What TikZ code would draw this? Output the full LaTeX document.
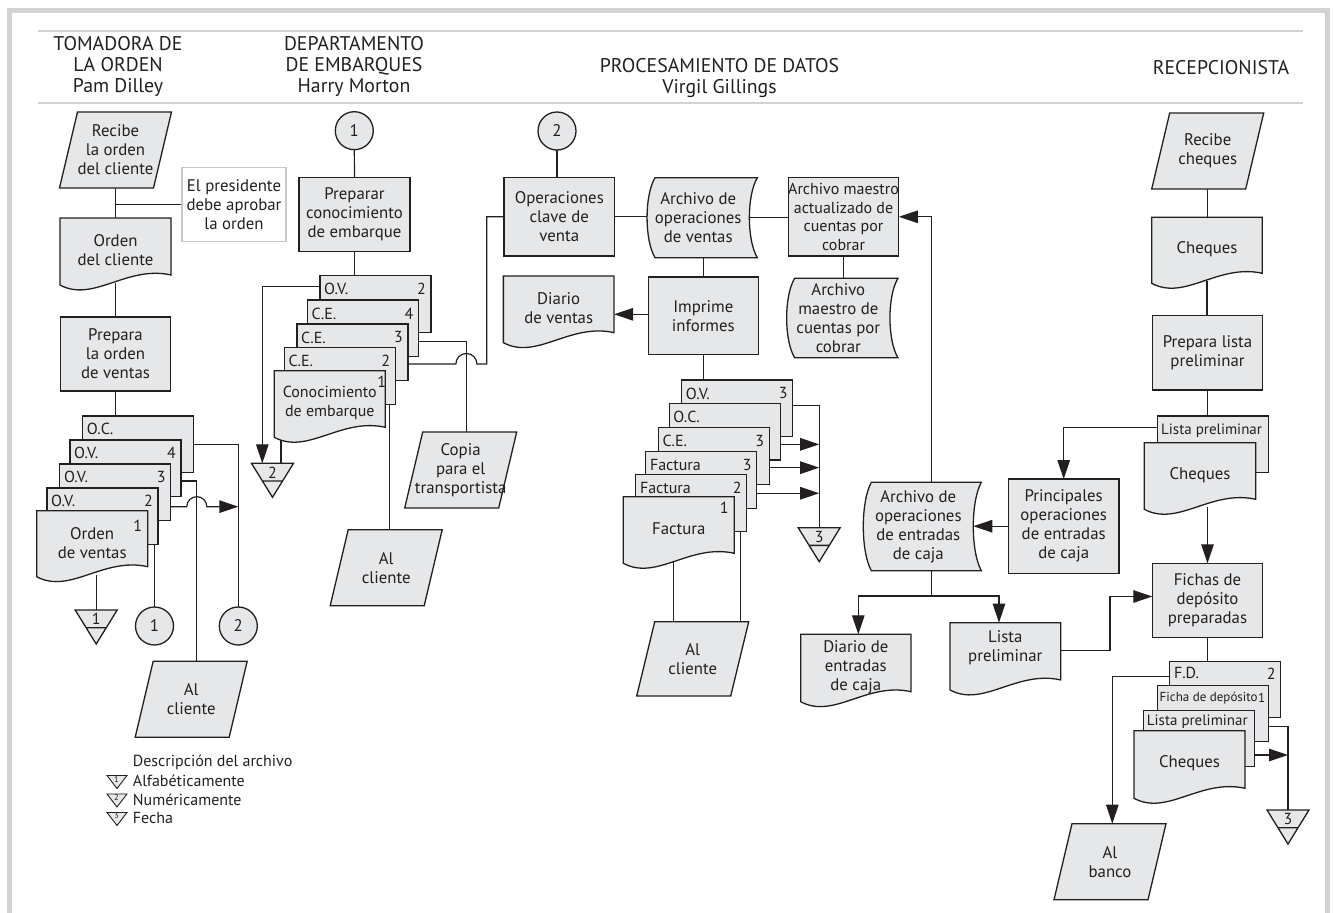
\documentclass[tikz,border=0pt]{standalone}
\usepackage{fontspec}
\setmainfont{PT Sans}
\usetikzlibrary{arrows.meta,backgrounds,calc}

\definecolor{lc}{HTML}{231F20}
\definecolor{fc}{HTML}{E6E7E8}
\definecolor{fr}{HTML}{D1D3D4}
\definecolor{nb}{HTML}{C7C8CA}

\newcommand\bodyf{\fontsize{16.8}{19}\selectfont}
\newcommand\midf{\fontsize{16}{18.7}\selectfont}
\newcommand\lpf{\fontsize{15}{18}\selectfont}
\newcommand\hdrf{\fontsize{19.8}{21}\selectfont}
\newcommand\smlf{\fontsize{13}{15}\selectfont}
\newcommand\tnyf{\fontsize{8.5}{9}\selectfont}

\makeatletter
\newdimen\shXa \newdimen\shYa \newdimen\shXb \newdimen\shYb \newdimen\shW \newdimen\shH
\def\shgetbox{\southwest \shXa=\pgf@x \shYa=\pgf@y \northeast \shXb=\pgf@x \shYb=\pgf@y
  \shW=\shXb \advance\shW by -\shXa \shH=\shYb \advance\shH by -\shYa}
\def\shanchors{%
  \inheritsavedanchors[from=rectangle]%
  \inheritanchorborder[from=rectangle]%
  \inheritanchor[from=rectangle]{center}%
  \inheritanchor[from=rectangle]{north}%
  \inheritanchor[from=rectangle]{south}%
  \inheritanchor[from=rectangle]{east}%
  \inheritanchor[from=rectangle]{west}%
  \inheritanchor[from=rectangle]{north east}%
  \inheritanchor[from=rectangle]{north west}%
  \inheritanchor[from=rectangle]{south east}%
  \inheritanchor[from=rectangle]{south west}%
  \inheritanchor[from=rectangle]{mid}%
  \inheritanchor[from=rectangle]{base}}
\def\qp#1#2{\pgfqpoint{\dimexpr#1\relax}{\dimexpr#2\relax}}
% document: body ends 8pt above the box bottom on the right
\pgfdeclareshape{docshape}{\shanchors
 \backgroundpath{\shgetbox
  \pgfpathmoveto{\qp{\shXa}{\shYb}}%
  \pgfpathlineto{\qp{\shXb}{\shYb}}%
  \pgfpathlineto{\qp{\shXb}{\shYa+8pt}}%
  \pgfpathcurveto{\qp{\shXa+0.6\shW}{\shYa+18pt}}{\qp{\shXa+0.3\shW}{\shYa-20pt}}{\qp{\shXa}{\shYa-2pt}}%
  \pgfpathclose}}
\pgfdeclareshape{ioshape}{\shanchors
 \backgroundpath{\shgetbox
  \pgfpathmoveto{\qp{\shXa+9pt}{\shYb}}%
  \pgfpathlineto{\qp{\shXb+9pt}{\shYb}}%
  \pgfpathlineto{\qp{\shXb-9pt}{\shYa}}%
  \pgfpathlineto{\qp{\shXa-9pt}{\shYa}}%
  \pgfpathclose}}
\pgfdeclareshape{storeshape}{\shanchors
 \backgroundpath{\shgetbox
  \pgfpathmoveto{\qp{\shXa+8pt}{\shYb}}%
  \pgfpathlineto{\qp{\shXb+8pt}{\shYb}}%
  \pgfpathcurveto{\qp{\shXb-2.67pt}{\shYb-0.22\shH}}{\qp{\shXb-2.67pt}{\shYa+0.22\shH}}{\qp{\shXb+8pt}{\shYa}}%
  \pgfpathlineto{\qp{\shXa+8pt}{\shYa}}%
  \pgfpathcurveto{\qp{\shXa-2.67pt}{\shYa+0.22\shH}}{\qp{\shXa-2.67pt}{\shYb-0.22\shH}}{\qp{\shXa+8pt}{\shYb}}%
  \pgfpathclose}}
\pgfdeclareshape{offshape}{\shanchors
 \backgroundpath{\shgetbox
  \pgfpathmoveto{\qp{\shXa}{\shYb}}%
  \pgfpathlineto{\qp{\shXb}{\shYb}}%
  \pgfpathlineto{\qp{\shXa+0.5\shW}{\shYa}}%
  \pgfpathclose
  \pgfpathmoveto{\qp{\shXa+0.26\shW}{\shYb-0.52\shH}}%
  \pgfpathlineto{\qp{\shXb-0.26\shW}{\shYb-0.52\shH}}}}
\pgfdeclareshape{trishape}{\shanchors
 \backgroundpath{\shgetbox
  \pgfpathmoveto{\qp{\shXa}{\shYb}}%
  \pgfpathlineto{\qp{\shXb}{\shYb}}%
  \pgfpathlineto{\qp{\shXa+0.5\shW}{\shYa}}%
  \pgfpathclose}}
\makeatother

\tikzset{
  bx/.style={draw=lc, fill=fc, line width=1.3pt, inner sep=0pt, outer sep=0pt, align=center, font=\bodyf, text=lc},
  procbox/.style={bx, rectangle, minimum width=110.5, minimum height=74},
  docbox/.style={bx, shape=docshape, minimum width=111, minimum height=65},
  iobox/.style={bx, shape=ioshape, minimum width=94, minimum height=76},
  storebox/.style={bx, shape=storeshape, minimum width=103, minimum height=80},
  copybox/.style={bx, rectangle, minimum width=111, minimum height=56.7},
  connc/.style={bx, circle, minimum size=38},
  offbox/.style={bx, shape=offshape, minimum width=42, minimum height=34},
  tribox/.style={draw=lc, fill=fc, line width=0.9pt, shape=trishape, minimum width=20, minimum height=13, inner sep=0pt, outer sep=0pt},
  notebox/.style={draw=nb, fill=white, line width=1.1pt, rectangle, minimum width=104, minimum height=74, inner sep=0pt, align=center, font=\bodyf, text=lc},
  tabl/.style={inner sep=0pt, anchor=west, font=\midf, text=lc},
  tabn/.style={inner sep=0pt, anchor=east, font=\midf, text=lc},
  numl/.style={inner sep=0pt, font=\midf, text=lc},
  txt/.style={inner sep=0pt, anchor=west, font=\midf, text=lc},
  tnum/.style={inner sep=0pt, font=\tnyf, text=lc},
  hdr/.style={inner sep=0pt, align=center, font=\hdrf, text=lc},
  ln/.style={draw=lc, line width=1.2pt},
  arr/.style={ln, -{Triangle[length=19pt,width=12.5pt]}},
  hline/.style={draw=fr, line width=1.4pt},
}

\begin{document}
\begin{tikzpicture}[x=1pt,y=-1pt]
\useasboundingbox (0,0) rectangle (1334,913);

% headers
\node[hdr] (h1) at (118,66) {TOMADORA DE\\LA ORDEN\\Pam Dilley};
\node[hdr] (h2) at (354,66) {DEPARTAMENTO\\DE EMBARQUES\\Harry Morton};
\node[hdr] (h3) at (719.5,78) {PROCESAMIENTO DE DATOS\\Virgil Gillings};
\node[hdr] (h4) at (1221,68) {RECEPCIONISTA};

% ---------- column 1
\node[iobox] (rec) at (115.5,150) {Recibe\\la orden\\del cliente};
\node[notebox] (note) at (234,204.5) {El presidente\\debe aprobar\\la orden};
\node[docbox] (ordcli) at (115.5,250.5) {Orden\\del cliente};
\node[procbox] (prep) at (115.5,354) {Prepara\\la orden\\de ventas};
\node[copybox] (oc) at (138.2,444.3) {};
\node[tabl] (oc-l) at ($(oc.north west)+(4,13)$) {O.C.};
\node[copybox] (ov4) at (125.5,468.3) {};
\node[tabl] (ov4-l) at ($(ov4.north west)+(4,13)$) {O.V.};
\node[tabn] (ov4-n) at ($(ov4.north east)+(-5,13)$) {4};
\node[copybox] (ov3) at (115.3,492.3) {};
\node[tabl] (ov3-l) at ($(ov3.north west)+(4,13)$) {O.V.};
\node[tabn] (ov3-n) at ($(ov3.north east)+(-5,13)$) {3};
\node[copybox] (ov2) at (102.5,516.3) {};
\node[tabl] (ov2-l) at ($(ov2.north west)+(4,13)$) {O.V.};
\node[tabn] (ov2-n) at ($(ov2.north east)+(-5,13)$) {2};
\node[docbox, minimum height=64] (ov1) at (92.2,542.7) {Orden\\de ventas};
\node[numl] (ov1-n) at ($(ov1.north east)+(-10,15)$) {1};
\node[offbox] (t1) at (96.2,627) {};
\node[numl] (t1-n) at ($(t1.north)+(0,8.5)$) {1};
\node[connc] (c1a) at (154.5,626) {1};
\node[connc] (c2a) at (238.3,626) {2};
\node[iobox] (alc1) at (191.2,699.2) {Al\\cliente};

% legend
\node[txt] (lg0) at (132.7,762) {Descripción del archivo};
\node[tribox] (lt1) at (117,782) {};
\node[tnum] (lt1n) at (116.5,779) {1};
\node[txt] (lg1) at (132.7,781) {Alfabéticamente};
\node[tribox] (lt2) at (117,800.5) {};
\node[tnum] (lt2n) at (116.5,797.5) {2};
\node[txt] (lg2) at (132.7,799.5) {Numéricamente};
\node[tribox] (lt3) at (117,819) {};
\node[tnum] (lt3n) at (116.5,816) {3};
\node[txt] (lg3) at (132.7,818) {Fecha};

% ---------- column 2
\node[connc] (c1b) at (354.3,130.7) {1};
\node[procbox, minimum width=111] (prepc) at (354.5,214.7) {Preparar\\conocimiento\\de embarque};
\node[copybox] (ovB) at (375.5,304) {};
\node[tabl] (ovB-l) at ($(ovB.north west)+(4,13.5)$) {O.V.};
\node[tabn] (ovB-n) at ($(ovB.north east)+(-5,13.5)$) {2};
\node[copybox] (ce4) at (363,328.3) {};
\node[tabl] (ce4-l) at ($(ce4.north west)+(4,13.5)$) {C.E.};
\node[tabn] (ce4-n) at ($(ce4.north east)+(-5,13.5)$) {4};
\node[copybox] (ce3) at (352.5,352.3) {};
\node[tabl] (ce3-l) at ($(ce3.north west)+(4,13.5)$) {C.E.};
\node[tabn] (ce3-n) at ($(ce3.north east)+(-5,13.5)$) {3};
\node[copybox] (ce2) at (339.8,376) {};
\node[tabl] (ce2-l) at ($(ce2.north west)+(4,13.5)$) {C.E.};
\node[tabn] (ce2-n) at ($(ce2.north east)+(-5,13.5)$) {2};
\node[docbox, minimum height=64.6, font=\midf] (ce1) at (329.8,403) {Conocimiento\\de embarque};
\node[numl] (ce1-n) at ($(ce1.north east)+(-3.5,11)$) {1};
\node[offbox] (t2) at (272.5,480.3) {};
\node[numl] (t2-n) at ($(t2.north)+(0,9)$) {2};
\node[iobox] (copia) at (460.7,470) {Copia\\para el\\transportista};
\node[iobox] (alc2) at (386.2,567.7) {Al\\cliente};

% ---------- column 3
\node[connc] (c2b) at (557,131) {2};
\node[procbox, minimum width=110.7, minimum height=78.3] (opv) at (559.3,216.8) {Operaciones\\clave de\\venta};
\node[storebox, minimum width=102.3] (aov) at (698.2,217.7) {Archivo de\\operaciones\\de ventas};
\node[procbox, minimum width=110.4, minimum height=78.3, font=\midf] (amact) at (843.5,216.8) {Archivo maestro\\actualizado de\\cuentas por\\cobrar};
\node[storebox, minimum width=103.3, minimum height=79.4] (amc) at (838.3,318) {Archivo\\maestro de\\cuentas por\\cobrar};
\node[docbox, minimum width=110.7, minimum height=64.7] (dv) at (558.7,308.3) {Diario\\de ventas};
\node[procbox, minimum width=110, minimum height=77.7] (imp) at (703.3,315.8) {Imprime\\informes};
\node[copybox] (ovC) at (737.2,408.3) {};
\node[tabl] (ovC-l) at ($(ovC.north west)+(4,13.5)$) {O.V.};
\node[tabn] (ovC-n) at ($(ovC.north east)+(-5,13.5)$) {3};
\node[copybox] (ocC) at (724.7,431.7) {};
\node[tabl] (ocC-l) at ($(ocC.north west)+(4,13.5)$) {O.C.};
\node[copybox] (ceC) at (713.8,456) {};
\node[tabl] (ceC-l) at ($(ceC.north west)+(4,13.5)$) {C.E.};
\node[tabn] (ceC-n) at ($(ceC.north east)+(-5,13.5)$) {3};
\node[copybox] (fa3) at (701.3,480) {};
\node[tabl] (fa3-l) at ($(fa3.north west)+(4,13.5)$) {Factura};
\node[tabn] (fa3-n) at ($(fa3.north east)+(-5,13.5)$) {3};
\node[copybox] (fa2) at (691.3,503) {};
\node[tabl] (fa2-l) at ($(fa2.north west)+(4,13.5)$) {Factura};
\node[tabn] (fa2-n) at ($(fa2.north east)+(-5,13.5)$) {2};
\node[docbox, minimum height=64.6] (fa1) at (678.8,529) {Factura};
\node[numl] (fa1-n) at ($(fa1.north east)+(-10,11)$) {1};
\node[offbox] (t3a) at (819.2,544.7) {};
\node[numl] (t3a-n) at ($(t3a.north)+(0,9)$) {3};
\node[iobox, minimum height=74.3] (alc3) at (692.7,658.9) {Al\\cliente};
\node[storebox, minimum width=110, minimum height=88.4] (aec) at (918.3,526.5) {Archivo de\\operaciones\\de entradas\\de caja};
\node[procbox, minimum width=110.7, minimum height=94.3] (pri) at (1063.7,526.2) {Principales\\operaciones\\de entradas\\de caja};
\node[docbox, minimum width=110.3, minimum height=65.4] (dec) at (855.8,667) {Diario de\\entradas\\de caja};
\node[docbox, minimum width=110.7, minimum height=65.3] (lpd) at (1005.3,655.3) {Lista\\preliminar\\[-1pt]\mbox{}};

% ---------- column 4
\node[iobox] (rch) at (1207.7,151) {Recibe\\cheques};
\node[docbox, minimum width=110.6, minimum height=64] (ch1) at (1207,249.3) {Cheques};
\node[procbox, minimum width=110.4, minimum height=74.3] (plp) at (1207.5,352.8) {Prepara lista\\preliminar};
\node[copybox] (lp1) at (1212.8,444.3) {};
\node[tabl, font=\lpf] (lp1-l) at ($(lp1.north west)+(3.7,14.7)$) {Lista preliminar};
\node[docbox, minimum width=111.4, minimum height=64.6] (ch2) at (1200,475) {Cheques};
\node[procbox, minimum width=110.4, minimum height=74.4] (fich) at (1207.5,600.5) {Fichas de\\depósito\\preparadas};
\node[copybox, minimum height=56] (fd) at (1225.3,689.7) {};
\node[tabl] (fd-l) at ($(fd.north west)+(4,11.6)$) {F.D.};
\node[tabn] (fd-n) at ($(fd.north east)+(-5,11.6)$) {2};
\node[copybox, minimum height=56] (fdep) at (1213,713.7) {};
\node[tabl, font=\smlf] (fdep-l) at ($(fdep.north west)+(2,12.6)$) {Ficha de depósito};
\node[tabn, font=\smlf] (fdep-n) at ($(fdep.north east)+(-3,12.6)$) {1};
\node[copybox, minimum height=56] (lp2) at (1198.8,738.7) {};
\node[tabl, font=\lpf] (lp2-l) at ($(lp2.north west)+(3.4,10.5)$) {Lista preliminar};
\node[docbox, minimum height=65.6] (ch3) at (1189.5,763.5) {Cheques};
\node[offbox] (t3b) at (1288,827) {};
\node[numl] (t3b-n) at ($(t3b.north)+(0,9)$) {3};
\node[iobox] (alb) at (1110,861.7) {Al\\banco};

% ---------- connectors and frame (behind)
\begin{scope}[on background layer]
\fill[fr] (7,8) rectangle (1330,13);
\fill[fr] (7,8) rectangle (12,913);
\fill[fr] (1325,8) rectangle (1330,913);
\draw[hline] (38,31) -- (1303,31);
\draw[hline] (38,103) -- (1303,103);

% column 1
\draw[ln] (rec.south) -- (ordcli.north);
\draw[ln] (note.west) -- (note.west -| rec.south);
\draw[ln] (ordcli.south) -- (prep.north);
\draw[ln] (prep.south) -- (prep.south |- oc.north);
\draw[ln] (oc.east) -| (c2a.north);
\coordinate (ov4o) at ($(ov4.north east)+(0,41)$);
\coordinate (alc1t) at ($(alc1.north)+(5.5,0)$);
\draw[ln] (ov4o) -| (alc1t);
\coordinate (ov3o) at ($(ov3.north east)+(0,42.7)$);
\draw[arr] (ov3o) -- ++(16,0) arc[start angle=180,end angle=0,radius=10pt] -- (c2a.north |- ov3o);
\draw[ln] (c1a.north |- ov2.south) -- (c1a.north);
\draw[ln] (t1.north |- ov1.south) -- (t1.north);

% column 2
\draw[ln] (c1b.south) -- (prepc.north);
\draw[ln] (prepc.south) -- (prepc.south |- ovB.north);
\coordinate (ovBo) at ($(ovB.north west)+(0,11)$);
\coordinate (t2l) at ($(t2.north)+(-10.2,0)$);
\draw[arr] (ovBo) -| (t2l);
\coordinate (t2r) at ($(t2.north)+(8.5,0)$);
\draw[ln] (t2r |- ce1.south) -- (t2r);
\coordinate (ce4o) at ($(ce4.north east)+(0,41.7)$);
\coordinate (copt) at ($(copia.north)+(6,0)$);
\draw[ln] (ce4o) -| (copt);
\coordinate (ce3o) at ($(ce3.north east)+(0,40)$);
\coordinate (k1) at ($(opv.west)+(-17.3,0)$);
\draw[ln] (ce3o) -- ++(47.9,0) arc[start angle=180,end angle=0,radius=10.5pt] -- (k1 |- ce3o) -- (k1) -- (opv.west);
\coordinate (alc2t) at ($(alc2.north)+(3.3,0)$);
\draw[ln] (alc2t |- ce2.south) -- (alc2t);

% column 3
\draw[ln] (c2b.south) -- (c2b.south |- opv.north);
\draw[ln] (opv.east) -- (opv.east -| aov.west);
\draw[ln] (aov.east) -- (aov.east -| amact.west);
\draw[ln] (amact.south) -- (amact.south |- amc.north);
\draw[ln] (imp.north |- aov.south) -- (imp.north);
\coordinate (dvr) at ($(dv.east)+(0,6)$);
\draw[arr] (imp.west |- dvr) -- (dvr);
\draw[ln] (imp.south) -- (imp.south |- ovC.north);
\coordinate (ovCo) at ($(ovC.north east)+(0,25.7)$);
\draw[ln] (ovCo) -| (t3a.north);
\coordinate (ocCo) at ($(ocC.north east)+(0,41)$);
\draw[arr] (ocCo) -- (ocCo -| t3a.north);
\coordinate (ceCo) at ($(ceC.north east)+(0,40)$);
\draw[arr] (ceCo) -- (ceCo -| t3a.north);
\coordinate (fa3o) at ($(fa3.north east)+(0,41.6)$);
\draw[arr] (fa3o) -- (fa3o -| t3a.north);
\coordinate (alc3l) at ($(alc3.north)+(-19.4,0)$);
\coordinate (alc3r) at ($(alc3.north)+(48,0)$);
\draw[ln] (alc3l |- fa1.south) -- (alc3l);
\draw[ln] (alc3r |- fa2.south) -- (alc3r);
\coordinate (aect) at ($(aec.north)+(13.4,0)$);
\draw[arr] (aect) |- (amact.east);
\coordinate (aecb) at ($(aec.south)+(13.4,0)$);
\coordinate (spl) at ($(aecb)+(0,25.3)$);
\coordinate (dect) at ($(dec.north)+(2.5,0)$);
\coordinate (lpdt) at ($(lpd.north)+(-6.3,0)$);
\draw[ln] (aecb) -- (spl);
\draw[arr] (spl) -| (dect);
\draw[arr] (spl) -| (lpdt);
\draw[arr] (pri.west) -- (pri.west -| aec.east);
\coordinate (lp1o) at ($(lp1.north west)+(0,11.7)$);
\draw[arr] (lp1o) -| (pri.north);
\coordinate (lpdr) at ($(lpd.east)+(0,-5)$);
\coordinate (fichw) at ($(fich.west)+(0,-4)$);
\coordinate (k2) at ($(fich.west)+(-42.3,0)$);
\draw[arr] (lpdr) -- (k2 |- lpdr) -- (k2 |- fichw) -- (fichw);

% column 4
\draw[ln] (rch.south) -- (rch.south |- ch1.north);
\draw[ln] (ch1.south) -- (ch1.south |- plp.north);
\draw[ln] (plp.south) -- (plp.south |- lp1.north);
\draw[arr] (fich.north |- ch2.south) -- (fich.north);
\draw[ln] (fich.south) -- (fich.south |- fd.north);
\coordinate (fdo) at ($(fd.north west)+(0,15)$);
\coordinate (albt) at ($(alb.north)+(2.3,0)$);
\draw[arr] (fdo) -| (albt);
\coordinate (fdepo) at ($(fdep.north east)+(0,41)$);
\draw[ln] (fdepo) -| (t3b.north);
\coordinate (lp2o) at ($(lp2.north east)+(0,44.3)$);
\draw[arr] (lp2o) -- (lp2o -| t3b.north);
\end{scope}
\end{tikzpicture}
\end{document}
